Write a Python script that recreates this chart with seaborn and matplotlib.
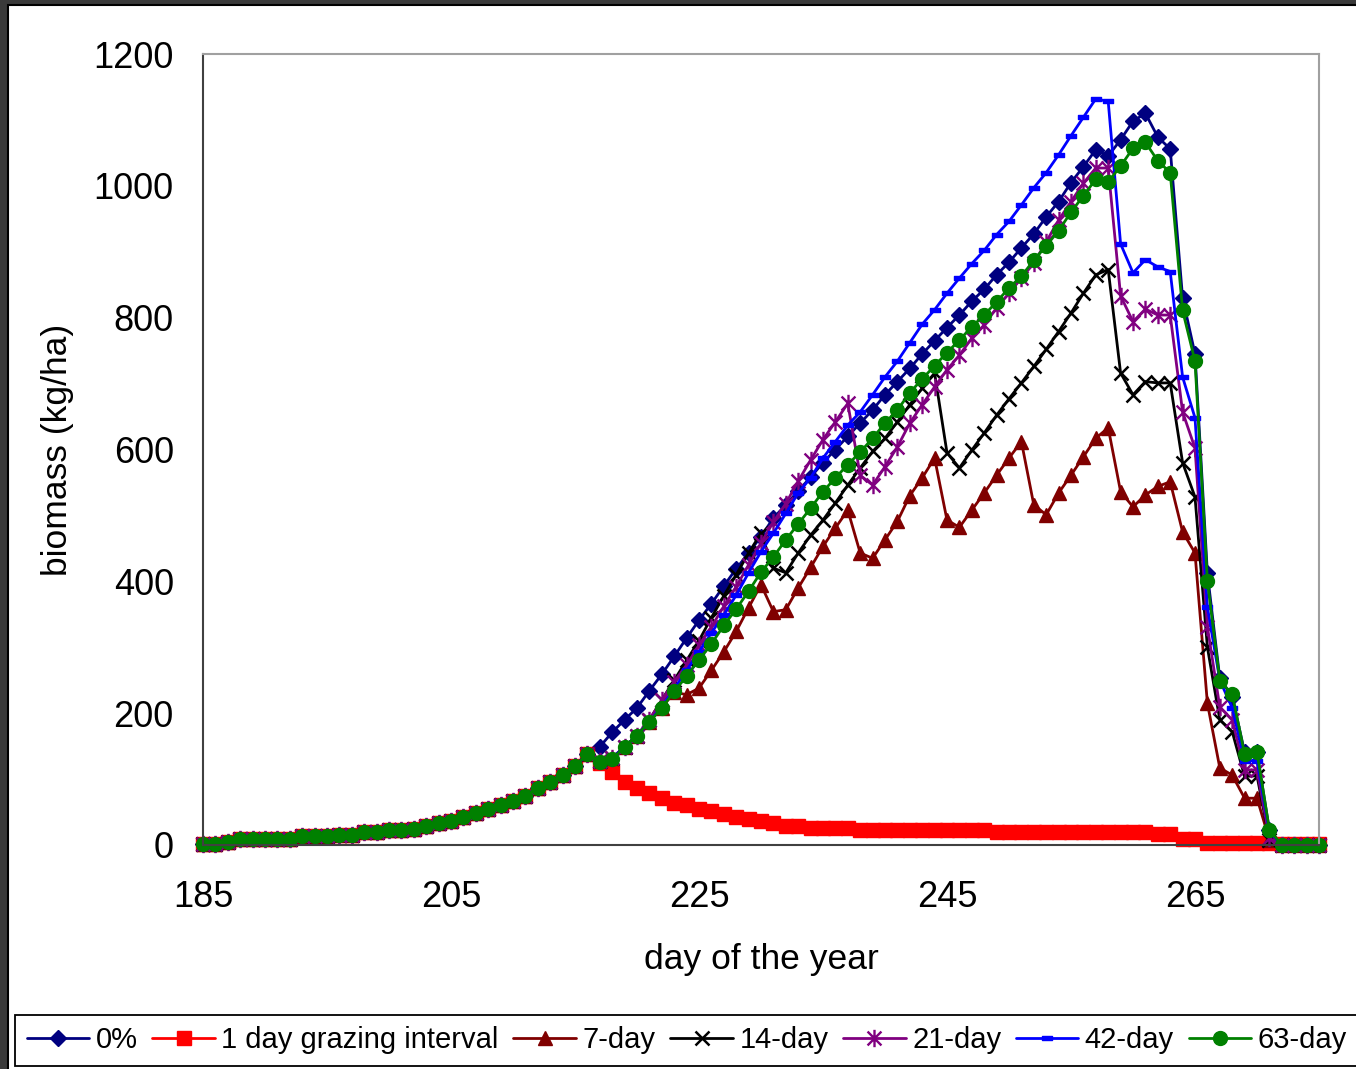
import numpy as np
import pandas as pd
import seaborn as sns
import matplotlib.pyplot as plt
from matplotlib.path import Path
from matplotlib.patches import Rectangle

# day 185 .. 275, one value per day
days = np.arange(185, 276)

# common part of every run (days 185-216)
base = [1, 1, 5, 9, 9, 9, 9, 9, 13, 13, 13, 15, 15, 19, 19, 23,
        23, 25, 29, 33, 36, 43, 48, 54, 61, 67, 75, 86, 95, 106, 120, 138]

# days 217-275 for each run
zero_pct = [149, 171, 190, 208, 234, 259, 286, 314, 341, 366, 393, 419, 443, 468,
            496, 516, 537, 558, 580, 600, 620, 640, 660, 683, 703, 723, 745, 765,
            785, 804, 825, 843, 865, 884, 906, 927, 953, 976, 1005, 1029, 1055, 1045,
            1070, 1098, 1110, 1074, 1056, 830, 745, 412, 253, 225, 141, 141, 22, 0,
            0, 0, 0]
day1 = [125, 111, 96, 86, 79, 71, 64, 61, 55, 51, 47, 43, 40, 37,
        33, 29, 29, 26, 26, 26, 26, 23, 23, 23, 23, 23, 23, 23,
        23, 23, 23, 23, 20, 20, 20, 20, 20, 20, 20, 20, 20, 20,
        20, 20, 20, 17, 17, 9, 9, 3, 3, 3, 3, 3, 3, 1,
        1, 1, 1]
day7 = [127, 132, 149, 166, 187, 208, 232, 228, 238, 265, 293, 324, 360, 395,
        354, 357, 390, 421, 453, 481, 508, 443, 435, 463, 491, 530, 557, 587,
        493, 482, 508, 534, 561, 587, 612, 516, 501, 534, 561, 589, 617, 633,
        536, 513, 531, 544, 551, 475, 443, 215, 117, 106, 71, 71, 8, 0,
        0, 0, 0]
day14 = [127, 132, 149, 166, 190, 220, 250, 280, 310, 345, 378, 410, 443, 473,
         420, 413, 443, 470, 493, 519, 546, 572, 597, 617, 642, 668, 693, 716,
         595, 572, 599, 625, 652, 677, 701, 726, 752, 779, 807, 837, 865, 873,
         716, 683, 703, 701, 701, 580, 528, 300, 190, 172, 104, 105, 8, 0,
         0, 0, 0]
day21 = [127, 132, 149, 166, 190, 220, 248, 273, 303, 331, 362, 392, 425, 458,
         490, 518, 552, 584, 615, 642, 670, 561, 546, 574, 604, 640, 668, 695,
         721, 743, 769, 789, 815, 837, 860, 883, 915, 948, 976, 1004, 1027, 1027,
         833, 794, 813, 804, 804, 657, 602, 331, 209, 190, 114, 114, 10, 0,
         0, 0, 0]
day42 = [127, 132, 149, 166, 187, 210, 237, 265, 293, 322, 349, 379, 413, 445,
         473, 503, 534, 557, 587, 612, 637, 657, 683, 710, 734, 762, 790, 812,
         837, 860, 882, 902, 926, 946, 971, 997, 1020, 1047, 1076, 1104, 1132, 1128,
         912, 868, 888, 877, 870, 710, 648, 361, 250, 208, 128, 128, 20, 0,
         0, 0, 0]
day63 = [126, 130, 149, 166, 187, 208, 233, 256, 281, 305, 333, 358, 385, 414,
         437, 463, 487, 511, 536, 557, 577, 596, 617, 640, 660, 686, 707, 727,
         747, 766, 786, 804, 824, 845, 863, 887, 909, 932, 960, 985, 1010, 1006,
         1030, 1057, 1066, 1038, 1020, 811, 734, 400, 249, 229, 138, 141, 23, 0,
         0, 0, 0]

labels = ["0%", "1 day grazing interval", "7-day", "14-day", "21-day", "42-day", "63-day"]
tails = [zero_pct, day1, day7, day14, day21, day42, day63]

# excel-ish markers
asterisk = Path([(0, -1), (0, 1), (-0.8, -0.8), (0.8, 0.8), (-0.8, 0.8), (0.8, -0.8)],
                [Path.MOVETO, Path.LINETO] * 3)
dash = Path([(-1, -0.32), (1, -0.32), (1, 0.32), (-1, 0.32), (-1, -0.32)],
            [Path.MOVETO, Path.LINETO, Path.LINETO, Path.LINETO, Path.CLOSEPOLY])

styles = [
    dict(color="#000080", marker="D", ms=8),
    dict(color="#ff0000", marker="s", ms=9.5),
    dict(color="#800000", marker="^", ms=10.5),
    dict(color="#000000", marker="x", ms=10, mew=1.8),
    dict(color="#800080", marker=asterisk, ms=12.5, mew=1.7),
    dict(color="#0000ff", marker=dash, ms=7.5),
    dict(color="#008000", marker="o", ms=10),
]

sns.set_style("white")
plt.rcParams["font.family"] = ["Liberation Sans", "DejaVu Sans"]
plt.rcParams["text.color"] = "black"
plt.rcParams["axes.labelcolor"] = "black"
plt.rcParams["xtick.labelcolor"] = "black"
plt.rcParams["ytick.labelcolor"] = "black"

fig = plt.figure(figsize=(13.56, 10.69), dpi=100)
fig.patch.set_facecolor("#3a3a3a")
fig.patches.append(Rectangle((8 / 1356, -0.01), 1.0, 1 - 4.5 / 1069 + 0.01,
                             transform=fig.transFigure, facecolor="white",
                             edgecolor="black", lw=1.5, zorder=-10))

ax = fig.add_axes([203 / 1356, 1 - 845 / 1069, 1116 / 1356, 791 / 1069])
ax.set_facecolor("white")

for name, tail, st in zip(labels, tails, styles):
    df = pd.DataFrame({"day": days, "biomass": base + tail})
    c = st["color"]
    sns.lineplot(data=df, x="day", y="biomass", ax=ax, color=c, lw=2,
                 marker=st["marker"], markersize=st["ms"], mec=c, mfc=c,
                 mew=st.get("mew", 1.0), label=name, clip_on=False, legend=False)

ax.set_xlim(185, 275)
ax.set_ylim(0, 1200)
ax.set_xticks([185, 205, 225, 245, 265])
ax.set_yticks(range(0, 1201, 200))
ax.tick_params(axis="both", direction="out", length=9, width=1.3,
               labelsize=26, color="#404040")
ax.tick_params(axis="y", pad=12)
ax.tick_params(axis="x", pad=16)
ax.set_xlabel("day of the year", fontsize=25.5, labelpad=20)
ax.set_ylabel("biomass (kg/ha)", fontsize=25.5, labelpad=14)

for side in ["left", "bottom"]:
    ax.spines[side].set_color("#404040")
    ax.spines[side].set_linewidth(1.5)
for side in ["top", "right"]:
    ax.spines[side].set_visible(True)
    ax.spines[side].set_color("#a0a0a0")
    ax.spines[side].set_linewidth(1.5)

handles = ax.get_lines()[:len(labels)]
leg = fig.legend(handles, labels, loc="lower left",
                 bbox_to_anchor=(15 / 1356, 3 / 1069), ncol=7, fontsize=21,
                 frameon=True, fancybox=False, edgecolor="black",
                 handlelength=2.15, handletextpad=0.22, columnspacing=0.5,
                 borderaxespad=0, borderpad=0.4)
leg.get_frame().set_linewidth(1.3)
leg.get_frame().set_alpha(1)

fig.savefig("out.png", dpi=100, facecolor=fig.get_facecolor())
